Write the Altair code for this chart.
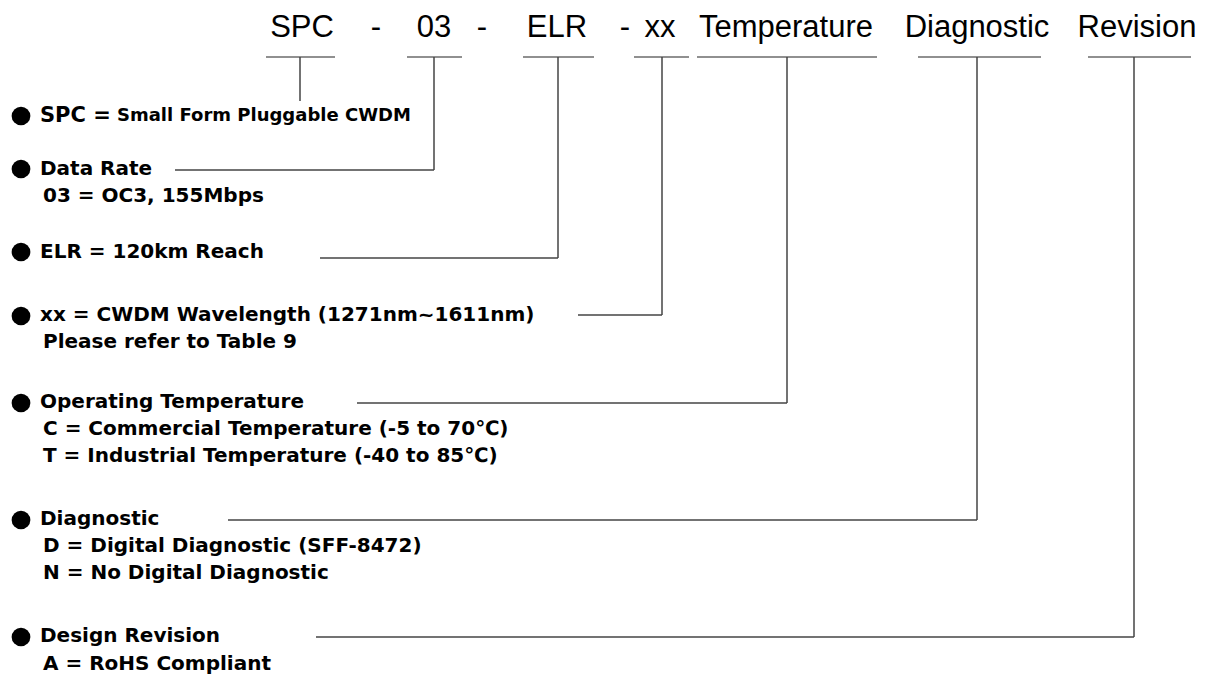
import altair as alt
import pandas as pd

# ---- top code line ----
top_labels = ["SPC", "-", "03", "-", "ELR", "-", "xx", "Temperature", "Diagnostic", "Revision"]
top_x = [302, 376, 434, 482, 557, 625, 660, 786, 977, 1137]
top_y = [28] * len(top_labels)

# ---- underline segments below each code field ----
ul_x1 = [266, 407, 523, 634, 697, 918, 1088]
ul_x2 = [335, 462, 594, 689, 877, 1041, 1191]
ul_y = [57] * 7

# ---- vertical drops from each underline ----
v_x = [300, 434, 558, 662, 787, 977, 1134]
v_y1 = [57] * 7
v_y2 = [101, 170, 258, 315, 403, 520, 637]

# ---- horizontal leaders pointing back to descriptions ----
lead_x1 = [175, 320, 578, 357, 228, 316]
lead_x2 = [434, 558, 662, 787, 977, 1134]
lead_y = [170, 258, 315, 403, 520, 637]

# ---- bullets ----
bullet_x = [21] * 7
bullet_y = [116, 169, 252, 316, 403, 520, 637]

# ---- heading texts (bold) ----
head_text = ["Data Rate", "ELR = 120km Reach", "xx = CWDM Wavelength (1271nm~1611nm)",
             "Operating Temperature", "Diagnostic", "Design Revision"]
head_x = [40] * 6
head_y = [169, 252, 315, 402, 519, 636]

# ---- first item in two sizes ----
spc_text = ["SPC =", "Small Form Pluggable CWDM"]
spc_x = [40, 117]
spc_y = [116, 116]
spc_size = [21, 18]

# ---- sub-lines ----
sub_text = ["03 = OC3, 155Mbps", "Please refer to Table 9",
            "C = Commercial Temperature (-5 to 70\u2103)",
            "T = Industrial Temperature (-40 to 85\u2103)",
            "D = Digital Diagnostic (SFF-8472)", "N = No Digital Diagnostic",
            "A = RoHS Compliant"]
sub_x = [43] * 7
sub_y = [196, 342, 429, 456, 546, 573, 664]

xs = alt.Scale(domain=[8, 1202], nice=False, zero=False)
ys = alt.Scale(domain=[8, 677], nice=False, zero=False, reverse=True)

def X(f="x"):
    return alt.X(f"{f}:Q", scale=xs, axis=None)

def Y(f="y"):
    return alt.Y(f"{f}:Q", scale=ys, axis=None)

top_df = pd.DataFrame({"x": top_x, "y": top_y, "t": top_labels})
ul_df = pd.DataFrame({"x": ul_x1, "x2": ul_x2, "y": ul_y})
v_df = pd.DataFrame({"x": v_x, "y": v_y1, "y2": v_y2})
lead_df = pd.DataFrame({"x": lead_x1, "x2": lead_x2, "y": lead_y})
bul_df = pd.DataFrame({"x": bullet_x, "y": bullet_y})
head_df = pd.DataFrame({"x": head_x, "y": head_y, "t": head_text})
spc_df = pd.DataFrame({"x": spc_x, "y": spc_y, "t": spc_text, "s": spc_size})
sub_df = pd.DataFrame({"x": sub_x, "y": sub_y, "t": sub_text})

top = alt.Chart(top_df).mark_text(font="Liberation Sans", fontSize=31, align="center",
                                  baseline="middle", color="black").encode(
    x=X(), y=Y(), text="t:N")

ul = alt.Chart(ul_df).mark_rule(color="#222", strokeWidth=1.1).encode(
    x=X(), x2="x2:Q", y=Y())

vr = alt.Chart(v_df).mark_rule(color="#444", strokeWidth=1.5).encode(
    x=X(), y=Y(), y2="y2:Q")

lead = alt.Chart(lead_df).mark_rule(color="#444", strokeWidth=1.5).encode(
    x=X(), x2="x2:Q", y=Y())

bul = alt.Chart(bul_df).mark_circle(color="black", opacity=1, size=350).encode(
    x=X(), y=Y())

heads = alt.Chart(head_df).mark_text(font="DejaVu Sans", fontWeight="bold", fontSize=20,
                                     align="left", baseline="middle", color="black").encode(
    x=X(), y=Y(), text="t:N")

spc = alt.Chart(spc_df).mark_text(font="DejaVu Sans", fontWeight="bold",
                                  align="left", baseline="middle", color="black").encode(
    x=X(), y=Y(), text="t:N", size=alt.Size("s:Q", scale=None, legend=None))

subs = alt.Chart(sub_df).mark_text(font="DejaVu Sans", fontWeight="bold", fontSize=20,
                                   align="left", baseline="middle", color="black").encode(
    x=X(), y=Y(), text="t:N")

chart = alt.layer(ul, vr, lead, top, bul, heads, spc, subs).properties(
    width=1194, height=669, padding=0, autosize="none"
).configure_view(stroke=None)

chart.save("out.html", embed_options={"renderer": "svg", "actions": False})
